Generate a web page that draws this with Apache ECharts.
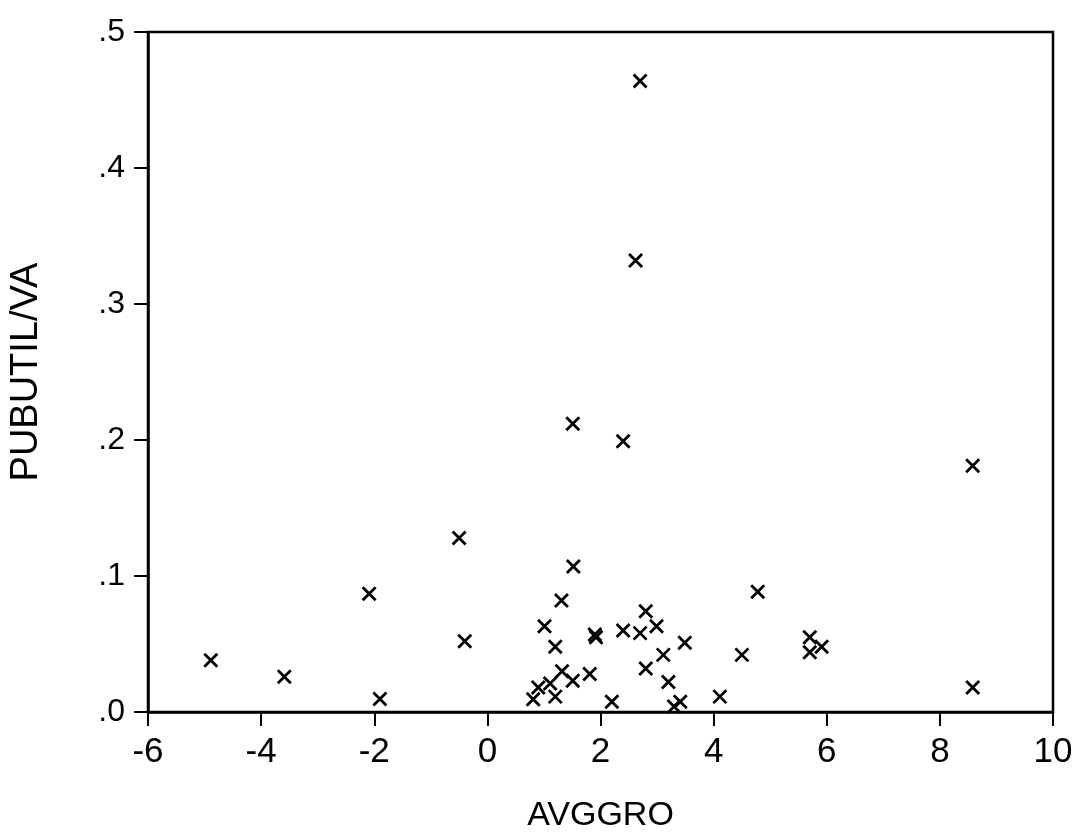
<!DOCTYPE html>
<html>
<head>
<meta charset="utf-8">
<script src="https://cdn.jsdelivr.net/npm/echarts@6/dist/echarts.min.js"></script>
<style>
  html, body { margin: 0; padding: 0; background: #fff; }
  #chart { width: 1077px; height: 833px; }
</style>
</head>
<body>
<div id="chart"></div>
<script>
// AVGGRO (x) values
var avggro = [-4.89, -3.59, -2.09, -1.90, -0.50, -0.40, 0.81, 0.90, 1.01, 1.11,
              1.20, 1.20, 1.31, 1.32, 1.51, 1.52, 1.51, 1.81, 1.90, 1.92,
              2.20, 2.40, 2.40, 2.62, 2.70, 2.70, 2.80, 2.80, 2.99, 3.11,
              3.20, 3.30, 3.41, 3.49, 4.11, 4.50, 4.78, 5.70, 5.70, 5.91,
              8.58, 8.58];
// PUBUTIL/VA (y) values
var pubutilva = [0.038, 0.026, 0.087, 0.0096, 0.128, 0.052, 0.0093, 0.018, 0.063, 0.021,
                 0.0113, 0.048, 0.082, 0.030, 0.023, 0.107, 0.212, 0.028, 0.057, 0.055,
                 0.0076, 0.060, 0.199, 0.332, 0.058, 0.464, 0.074, 0.032, 0.063, 0.042,
                 0.022, 0.004, 0.0076, 0.051, 0.0113, 0.042, 0.0885, 0.055, 0.044, 0.048,
                 0.181, 0.018];
var yTickLabels = ['.0', '.1', '.2', '.3', '.4', '.5'];
var xName = 'AVGGRO';
var yName = 'PUBUTIL/VA';

var points = avggro.map(function (x, i) { return [x, pubutilva[i]]; });
var FONT = '"Liberation Sans", Arial, sans-serif';

var chart = echarts.init(document.getElementById('chart'), null, { renderer: 'canvas' });
chart.setOption({
  backgroundColor: '#ffffff',
  animation: false,
  grid: {
    left: 148, right: 24, top: 32, bottom: 121,
    outerBoundsMode: 'none', containLabel: false,
    show: true, borderColor: '#000', borderWidth: 2.5, backgroundColor: 'transparent'
  },
  xAxis: {
    type: 'value', min: -6, max: 10, interval: 2,
    name: xName, nameLocation: 'middle', nameGap: 87,
    nameTextStyle: { fontFamily: FONT, fontSize: 34, color: '#000' },
    axisLine: { show: true, onZero: false, lineStyle: { color: '#000', width: 2.5 } },
    axisTick: { show: true, inside: false, length: 14, lineStyle: { color: '#000', width: 2 } },
    axisLabel: {
      margin: 23, fontFamily: FONT, fontSize: 35, color: '#000',
      verticalAlign: 'top', lineHeight: 35,
      formatter: function (v) { return String(v); }
    },
    splitLine: { show: false }
  },
  yAxis: {
    type: 'value', min: 0, max: 0.5, interval: 0.1,
    name: yName, nameLocation: 'middle', nameGap: 102, nameRotate: 90,
    nameTextStyle: { fontFamily: FONT, fontSize: 38, color: '#000' },
    axisLine: { show: true, onZero: false, lineStyle: { color: '#000', width: 2.5 } },
    axisTick: { show: true, inside: false, length: 14, lineStyle: { color: '#000', width: 2 } },
    axisLabel: {
      margin: 23, fontFamily: FONT, fontSize: 32, color: '#000',
      formatter: function (v) { return yTickLabels[Math.round(v / 0.1)]; }
    },
    splitLine: { show: false }
  },
  series: [{
    type: 'scatter',
    data: points,
    symbol: 'path://M0,0L10,10M10,0L0,10',
    symbolSize: 13,
    itemStyle: { color: 'none', borderColor: '#000', borderWidth: 2.8, opacity: 1 },
    emphasis: { disabled: true }
  }]
});
</script>
</body>
</html>
